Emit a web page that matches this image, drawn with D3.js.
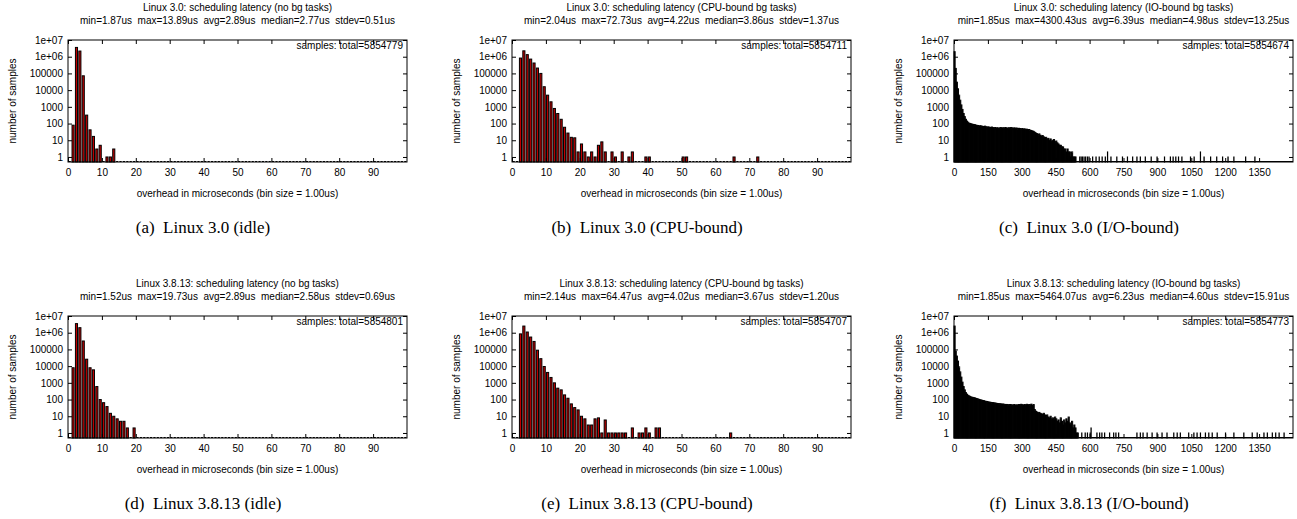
<!DOCTYPE html>
<html>
<head>
<meta charset="utf-8">
<title>scheduling latency histograms</title>
<script src="https://d3js.org/d3.v7.min.js"></script>
<style>
  body { margin: 0; background: #fff; }
  svg text { font-family: "Liberation Sans", Arial, sans-serif; font-size: 10px; fill: #000; white-space: pre; }
  svg text.caption { font-family: "Liberation Serif", "Times New Roman", serif; font-size: 17px; }
</style>
</head>
<body>
<svg id="chart" width="1297" height="519"></svg>
<script>
// ---- data ----
const titles = [
  "Linux 3.0: scheduling latency (no bg tasks)",
  "Linux 3.0: scheduling latency (CPU-bound bg tasks)",
  "Linux 3.0: scheduling latency (IO-bound bg tasks)",
  "Linux 3.8.13: scheduling latency (no bg tasks)",
  "Linux 3.8.13: scheduling latency (CPU-bound bg tasks)",
  "Linux 3.8.13: scheduling latency (IO-bound bg tasks)"
];
const stats = [
  "min=1.87us  max=13.89us  avg=2.89us  median=2.77us  stdev=0.51us",
  "min=2.04us  max=72.73us  avg=4.22us  median=3.86us  stdev=1.37us",
  "min=1.85us  max=4300.43us  avg=6.39us  median=4.98us  stdev=13.25us",
  "min=1.52us  max=19.73us  avg=2.89us  median=2.58us  stdev=0.69us",
  "min=2.14us  max=64.47us  avg=4.02us  median=3.67us  stdev=1.20us",
  "min=1.85us  max=5464.07us  avg=6.23us  median=4.60us  stdev=15.91us"
];
const totals = ["5854779", "5854711", "5854674", "5854801", "5854707", "5854773"];
const captions = [
  "(a)  Linux 3.0 (idle)",
  "(b)  Linux 3.0 (CPU-bound)",
  "(c)  Linux 3.0 (I/O-bound)",
  "(d)  Linux 3.8.13 (idle)",
  "(e)  Linux 3.8.13 (CPU-bound)",
  "(f)  Linux 3.8.13 (I/O-bound)"
];
const yTickValues = [1, 10, 100, 1000, 10000, 100000, 1e6, 1e7];
const yTickLabels = ["1", "10", "100", "1000", "10000", "100000", "1e+06", "1e+07"];
const shortXTicks = [0, 10, 20, 30, 40, 50, 60, 70, 80, 90];
const ioXTicks = [0, 150, 300, 450, 600, 750, 900, 1050, 1200, 1350];

// 1us bins (bin k = [k, k+1) us)
const idle30Bins   = [1, 2, 3, 4, 5, 6, 7, 8, 9, 11, 12, 13];
const idle30Counts = [80, 3600000, 2180000, 72000, 320, 42, 17, 3, 5, 1, 1, 3];

const cpu30Bins   = [2, 3, 4, 5, 6, 7, 8, 9, 10, 11, 12, 13, 14, 15, 16, 17, 18, 19, 20, 21, 22, 23, 24, 25, 26, 27, 29, 30, 32, 34, 35, 39, 40, 50, 51, 65, 72];
const cpu30Counts = [830000, 2250000, 1330000, 720000, 420000, 210000, 100000, 16000, 5000, 2000, 800, 400, 180, 60, 27, 15, 14, 2, 6, 2, 1, 2, 1, 5, 8, 2, 2, 1, 2, 1, 2, 1, 1, 1, 1, 1, 1];

const idle38Bins   = [1, 2, 3, 4, 5, 6, 7, 8, 9, 10, 11, 12, 13, 14, 15, 16, 17, 19];
const idle38Counts = [8000, 3500000, 2000000, 320000, 26000, 8000, 6000, 600, 100, 65, 38, 15, 10, 7, 5, 5, 2, 2];

const cpu38Bins   = [2, 3, 4, 5, 6, 7, 8, 9, 10, 11, 12, 13, 14, 15, 16, 17, 18, 19, 20, 21, 22, 23, 24, 25, 26, 27, 28, 29, 30, 31, 32, 33, 35, 37, 38, 39, 40, 42, 43, 64];
const cpu38Counts = [850000, 2500000, 1100000, 550000, 300000, 90000, 28000, 9500, 4200, 2100, 1000, 480, 380, 190, 120, 55, 33, 24, 10, 7, 3, 3, 7, 8, 1, 6, 1, 1, 1, 1, 1, 1, 2, 1, 1, 2, 1, 2, 2, 1];

// IO-bound panels: dense part read in 5us steps (typical per-1us-bin count), then the sparse tail
const ioStep = 5;
const io30Counts = [
  2000000, 200000, 30000, 12000, 5000, 2500, 1300, 700, 400, 260,
  180, 140, 120, 105, 100, 95, 90, 88, 85, 80,
  78, 76, 72, 74, 70, 68, 66, 70, 64, 62,
  63, 60, 58, 62, 57, 55, 58, 54, 56, 52,
  55, 57, 53, 56, 54, 58, 55, 52, 56, 54,
  57, 55, 53, 55, 52, 54, 50, 52, 50, 48,
  50, 47, 48, 45, 46, 43, 44, 40, 38, 36,
  34, 30, 27, 25, 22, 24, 20, 18, 19, 16,
  14, 15, 12, 13, 10, 12, 9, 10, 11, 8,
  9, 7, 6, 5, 5, 4, 4, 3, 3, 2,
  3, 2, 2, 1, 2, 1, 1, 1
];
const io30TailUs     = [556, 562, 568, 575, 582, 590, 597, 613, 628, 642, 655, 669, 679, 694, 720, 745, 767, 790, 809, 824, 846, 872, 898, 931, 957, 969, 981, 993, 1008, 1046, 1062, 1090, 1106, 1135, 1162, 1188, 1212, 1238, 1290, 1331];
const io30TailCounts = [1, 1, 1, 1, 1, 1, 1, 1, 1, 1, 1, 1, 2, 1, 1, 1, 1, 1, 1, 1, 1, 1, 1, 1, 1, 1, 1, 1, 1, 1, 1, 2, 1, 1, 1, 1, 1, 1, 1, 1];

const io38Counts = [
  2500000, 80000, 40000, 20000, 9000, 4500, 2200, 1100, 600, 380,
  260, 210, 180, 165, 150, 140, 135, 130, 125, 118,
  112, 108, 100, 96, 92, 88, 85, 80, 78, 76,
  72, 70, 68, 66, 65, 63, 62, 60, 58, 57,
  56, 55, 53, 54, 52, 50, 51, 50, 48, 50,
  49, 47, 48, 50, 46, 48, 47, 50, 48, 52,
  49, 47, 50, 48, 52, 46, 50, 48, 53, 45,
  50, 25, 20, 18, 16, 17, 15, 14, 13, 15,
  12, 11, 12, 9, 8, 10, 7, 8, 6, 9,
  7, 5, 6, 4, 8, 5, 3, 6, 4, 7,
  5, 9, 4, 3, 5, 2, 3, 2, 1, 1
];
const io38TailUs     = [565, 580, 590, 602, 606, 632, 644, 654, 666, 688, 706, 716, 728, 809, 824, 836, 854, 876, 898, 920, 942, 972, 987, 1001, 1038, 1061, 1075, 1090, 1112, 1127, 1142, 1164, 1201, 1238, 1282, 1319, 1341, 1371, 1386, 1408, 1423, 1438, 1460];
const io38TailCounts = [1, 1, 1, 1, 2, 1, 1, 1, 1, 1, 1, 1, 1, 1, 1, 1, 1, 1, 1, 1, 1, 1, 1, 1, 1, 1, 1, 1, 1, 1, 1, 1, 1, 1, 1, 1, 1, 1, 1, 1, 1, 1, 1];

// ---- layout ----
const colX = [0, 444, 886];
const rowY = [0, 276];
const margin = { left: 68, top: 40 };
const plotW = 339, plotH = 122;

function ioBins(counts, tailUs, tailCounts) {
  const bins = counts.map((c, i) => ({ x0: i * ioStep, w: ioStep, n: c }));
  tailUs.forEach((u, i) => bins.push({ x0: u, w: 1, n: tailCounts[i] }));
  return bins;
}
function unitBins(ks, counts) {
  return ks.map((k, i) => ({ x0: k, w: 1, n: counts[i] }));
}

const panels = [
  { bins: unitBins(idle30Bins, idle30Counts), xMax: 100, ticks: shortXTicks, boxFrac: 0.62, dense: false },
  { bins: unitBins(cpu30Bins, cpu30Counts), xMax: 100, ticks: shortXTicks, boxFrac: 0.62, dense: false },
  { bins: ioBins(io30Counts, io30TailUs, io30TailCounts), xMax: 1500, ticks: ioXTicks, boxFrac: 1, dense: true },
  { bins: unitBins(idle38Bins, idle38Counts), xMax: 100, ticks: shortXTicks, boxFrac: 0.62, dense: false },
  { bins: unitBins(cpu38Bins, cpu38Counts), xMax: 100, ticks: shortXTicks, boxFrac: 0.62, dense: false },
  { bins: ioBins(io38Counts, io38TailUs, io38TailCounts), xMax: 1500, ticks: ioXTicks, boxFrac: 1, dense: true }
];

const svg = d3.select("#chart");

panels.forEach((p, i) => {
  const col = i % 3, row = Math.floor(i / 3);
  const g = svg.append("g").attr("transform", `translate(${colX[col]},${rowY[row]})`);
  const plot = g.append("g").attr("transform", `translate(${margin.left},${margin.top})`);

  const x = d3.scaleLinear().domain([0, p.xMax]).range([0, plotW]);
  const y = d3.scaleLog().domain([0.5, 1e7]).range([plotH, 0]);
  const cx = margin.left + plotW / 2;

  // titles
  g.append("text").attr("x", cx).attr("y", 11).attr("text-anchor", "middle").text(titles[i]);
  g.append("text").attr("x", cx).attr("y", 24).attr("text-anchor", "middle").text(stats[i]);

  // empty bins sitting on the x axis
  const used = new Set();
  p.bins.forEach(b => { for (let k = b.x0; k < b.x0 + b.w; k++) used.add(k); });
  let flat = "";
  for (let k = 0; k < p.xMax; k++) {
    if (used.has(k)) continue;
    const half = p.boxFrac / 2;
    flat += `M${x(k + 0.5 - half)},${plotH - 0.5}H${x(k + 0.5 + half)}`;
  }
  plot.append("path").attr("d", flat).attr("stroke", "#000").attr("stroke-width", 1.2).attr("fill", "none");

  // bars (1500 one-microsecond boxes in the IO panels are thinner than their border, so they read black)
  plot.selectAll("rect.bar").data(p.bins).enter().append("rect")
    .attr("class", "bar")
    .attr("x", d => d.w === 1 ? x(d.x0 + 0.5 - p.boxFrac / 2) : x(d.x0))
    .attr("width", d => d.w === 1 ? x(p.boxFrac) - x(0) : x(d.w) - x(0))
    .attr("y", d => y(d.n))
    .attr("height", d => plotH - y(d.n))
    .attr("fill", p.dense ? "#000" : "#c00000")
    .attr("stroke", "#000")
    .attr("stroke-width", 1);

  // axes (ticks inward, mirrored)
  const xb = plot.append("g").attr("transform", `translate(0,${plotH})`)
    .call(d3.axisBottom(x).tickValues(p.ticks).tickSize(-4).tickPadding(7).tickFormat(d => String(d)));
  const xt = plot.append("g").call(d3.axisTop(x).tickValues(p.ticks).tickSize(-4).tickFormat(""));
  const yl = plot.append("g")
    .call(d3.axisLeft(y).tickValues(yTickValues).tickSize(-4).tickPadding(5)
      .tickFormat((d, j) => yTickLabels[j]));
  const yr = plot.append("g").attr("transform", `translate(${plotW},0)`)
    .call(d3.axisRight(y).tickValues(yTickValues).tickSize(-4).tickFormat(""));
  [xb, xt, yl, yr].forEach(a => {
    a.select(".domain").remove();
    a.selectAll("line").attr("stroke", "#000");
    a.attr("font-family", null).attr("font-size", null);
  });

  plot.append("rect").attr("width", plotW).attr("height", plotH)
    .attr("fill", "none").attr("stroke", "#000").attr("stroke-width", 1);

  plot.append("text").attr("x", plotW - 4).attr("y", 9).attr("text-anchor", "end")
    .text("samples: total=" + totals[i]);

  // axis titles
  g.append("text").attr("transform", `translate(16,${margin.top + plotH / 2}) rotate(-90)`)
    .attr("text-anchor", "middle").text("number of samples");
  g.append("text").attr("x", cx).attr("y", 197).attr("text-anchor", "middle")
    .text("overhead in microseconds (bin size = 1.00us)");

  g.append("text").attr("class", "caption").attr("x", 203).attr("y", 233)
    .attr("text-anchor", "middle").text(captions[i]);
});
</script>
</body>
</html>
